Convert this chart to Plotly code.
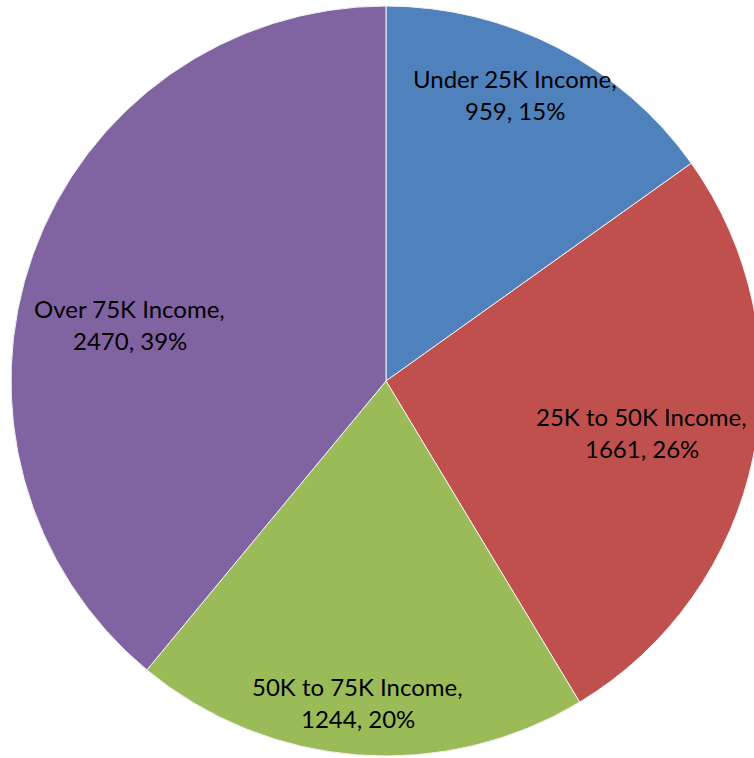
import math
import plotly.graph_objects as go

categories = ["Under 25K Income", "25K to 50K Income", "50K to 75K Income", "Over 75K Income"]
values = [959, 1661, 1244, 2470]
colors = ["#4F81BD", "#C0504D", "#9BBB59", "#8064A2"]
# label placement (style): radius fraction and angular offset (deg) from slice middle
label_radius = [0.835, 0.696, 0.864, 0.699]
label_angle_offset = [-2.9, 0.0, 0.7, -7.5]

W, H = 770, 758
CX, CY, R = 386, 381, 375  # pie centre / radius in pixels

fig = go.Figure(go.Pie(
    labels=categories,
    values=values,
    marker=dict(colors=colors, line=dict(color="#F2F2F2", width=1)),
    sort=False,
    direction="clockwise",
    rotation=0,
    textinfo="none",
    hoverinfo="label+value+percent",
    domain=dict(x=[(CX - R) / W, (CX + R) / W], y=[(H - CY - R) / H, (H - CY + R) / H]),
    showlegend=False,
))

total = sum(values)
cum = 0
annotations = []
for cat, v, fr, off in zip(categories, values, label_radius, label_angle_offset):
    mid = (cum + v / 2) / total * 2 * math.pi + math.radians(off)
    cum += v
    px = CX + fr * R * math.sin(mid)
    py = CY - fr * R * math.cos(mid)
    pct = round(v / total * 100)
    for txt, shift in ((cat + ",", 16), (f"{v}, {pct}%", -16)):
        annotations.append(dict(
            x=px / W, y=1 - py / H, xref="paper", yref="paper",
            text=txt, showarrow=False, yshift=shift + 1,
            font=dict(family="Lato, 'Open Sans', sans-serif", size=24, color="#000000"),
            xanchor="center", yanchor="middle",
        ))

fig.update_layout(
    width=W, height=H,
    margin=dict(l=0, r=0, t=0, b=0),
    paper_bgcolor="white",
    plot_bgcolor="white",
    annotations=annotations,
)

fig.write_html("out.html", config={"displayModeBar": False},
               post_script="document.body.style.margin='0';document.body.style.overflow='hidden';")
